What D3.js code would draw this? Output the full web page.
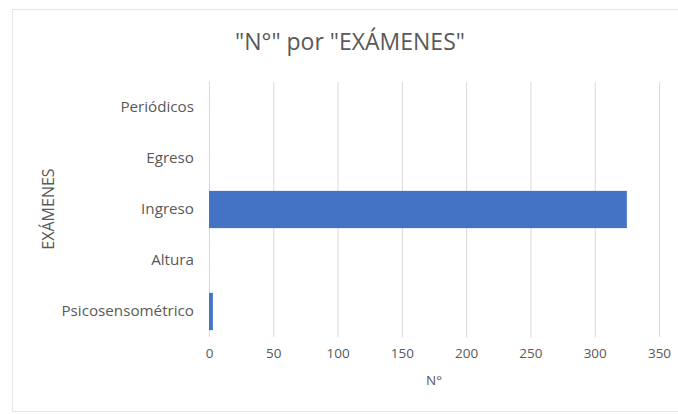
<!DOCTYPE html>
<html><head><meta charset="utf-8">
<script src="https://cdn.jsdelivr.net/npm/d3@7"></script>
<style>body{margin:0;background:#fff}svg{display:block}text{font-family:"Open Sans","Liberation Sans",sans-serif}</style>
</head><body><div id="c"></div>
<script>
const categories = ["Periódicos","Egreso","Ingreso","Altura","Psicosensométrico"];
const values = [0, 0, 325, 0, 3];
const xTicks = [0,50,100,150,200,250,300,350];
const title = "\"N°\" por \"EXÁMENES\"";
const xTitle = "N°";
const yTitle = "EXÁMENES";

const W=678,H=414;
const svg=d3.select("#c").append("svg").attr("width",W).attr("height",H);
svg.append("rect").attr("x",12.5).attr("y",9.5).attr("width",W-12).attr("height",402).attr("fill","#fff").attr("stroke","#e6e6e6");
const m={l:209,r:659,t:82,b:337};
const x=d3.scaleLinear().domain([0,350]).range([m.l,m.r]);
const y=d3.scaleBand().domain(categories).range([m.t,m.b]).paddingInner(0.27).paddingOuter(0.135);
const yb=d3.scaleBand().domain(categories).range([m.t,m.b]);
const grid=svg.append("g").attr("transform",`translate(0,${m.b})`)
  .call(d3.axisBottom(x).tickValues(xTicks).tickSize(-(m.b-m.t)).tickPadding(11));
grid.select(".domain").remove();
grid.selectAll(".tick line").attr("stroke","#d9d9d9");
grid.selectAll(".tick text").attr("fill","#595959").style("font-size","13.5px");
svg.append("g").selectAll("rect").data(categories).join("rect")
  .attr("x",x(0)).attr("y",d=>y(d)).attr("height",y.bandwidth())
  .attr("width",(d,i)=>x(values[i])-x(0)).attr("fill","#4472c4");
const ya=svg.append("g").attr("transform",`translate(${m.l-15},0)`)
  .call(d3.axisLeft(yb).tickSize(0).tickPadding(0));
ya.select(".domain").remove();
ya.selectAll(".tick text").attr("fill","#595959").style("font-size","15.2px").attr("dy","0.3em");
svg.append("text").attr("x",350).attr("y",50).attr("text-anchor","middle").attr("fill","#595959").style("font-size","23px").text(title);
svg.append("text").attr("x",434).attr("y",385).attr("text-anchor","middle").attr("fill","#595959").style("font-size","13.5px").text(xTitle);
svg.append("text").attr("transform","translate(54,209) rotate(-90)").attr("text-anchor","middle").attr("fill","#595959").style("font-size","16px").text(yTitle);
</script></body></html>
